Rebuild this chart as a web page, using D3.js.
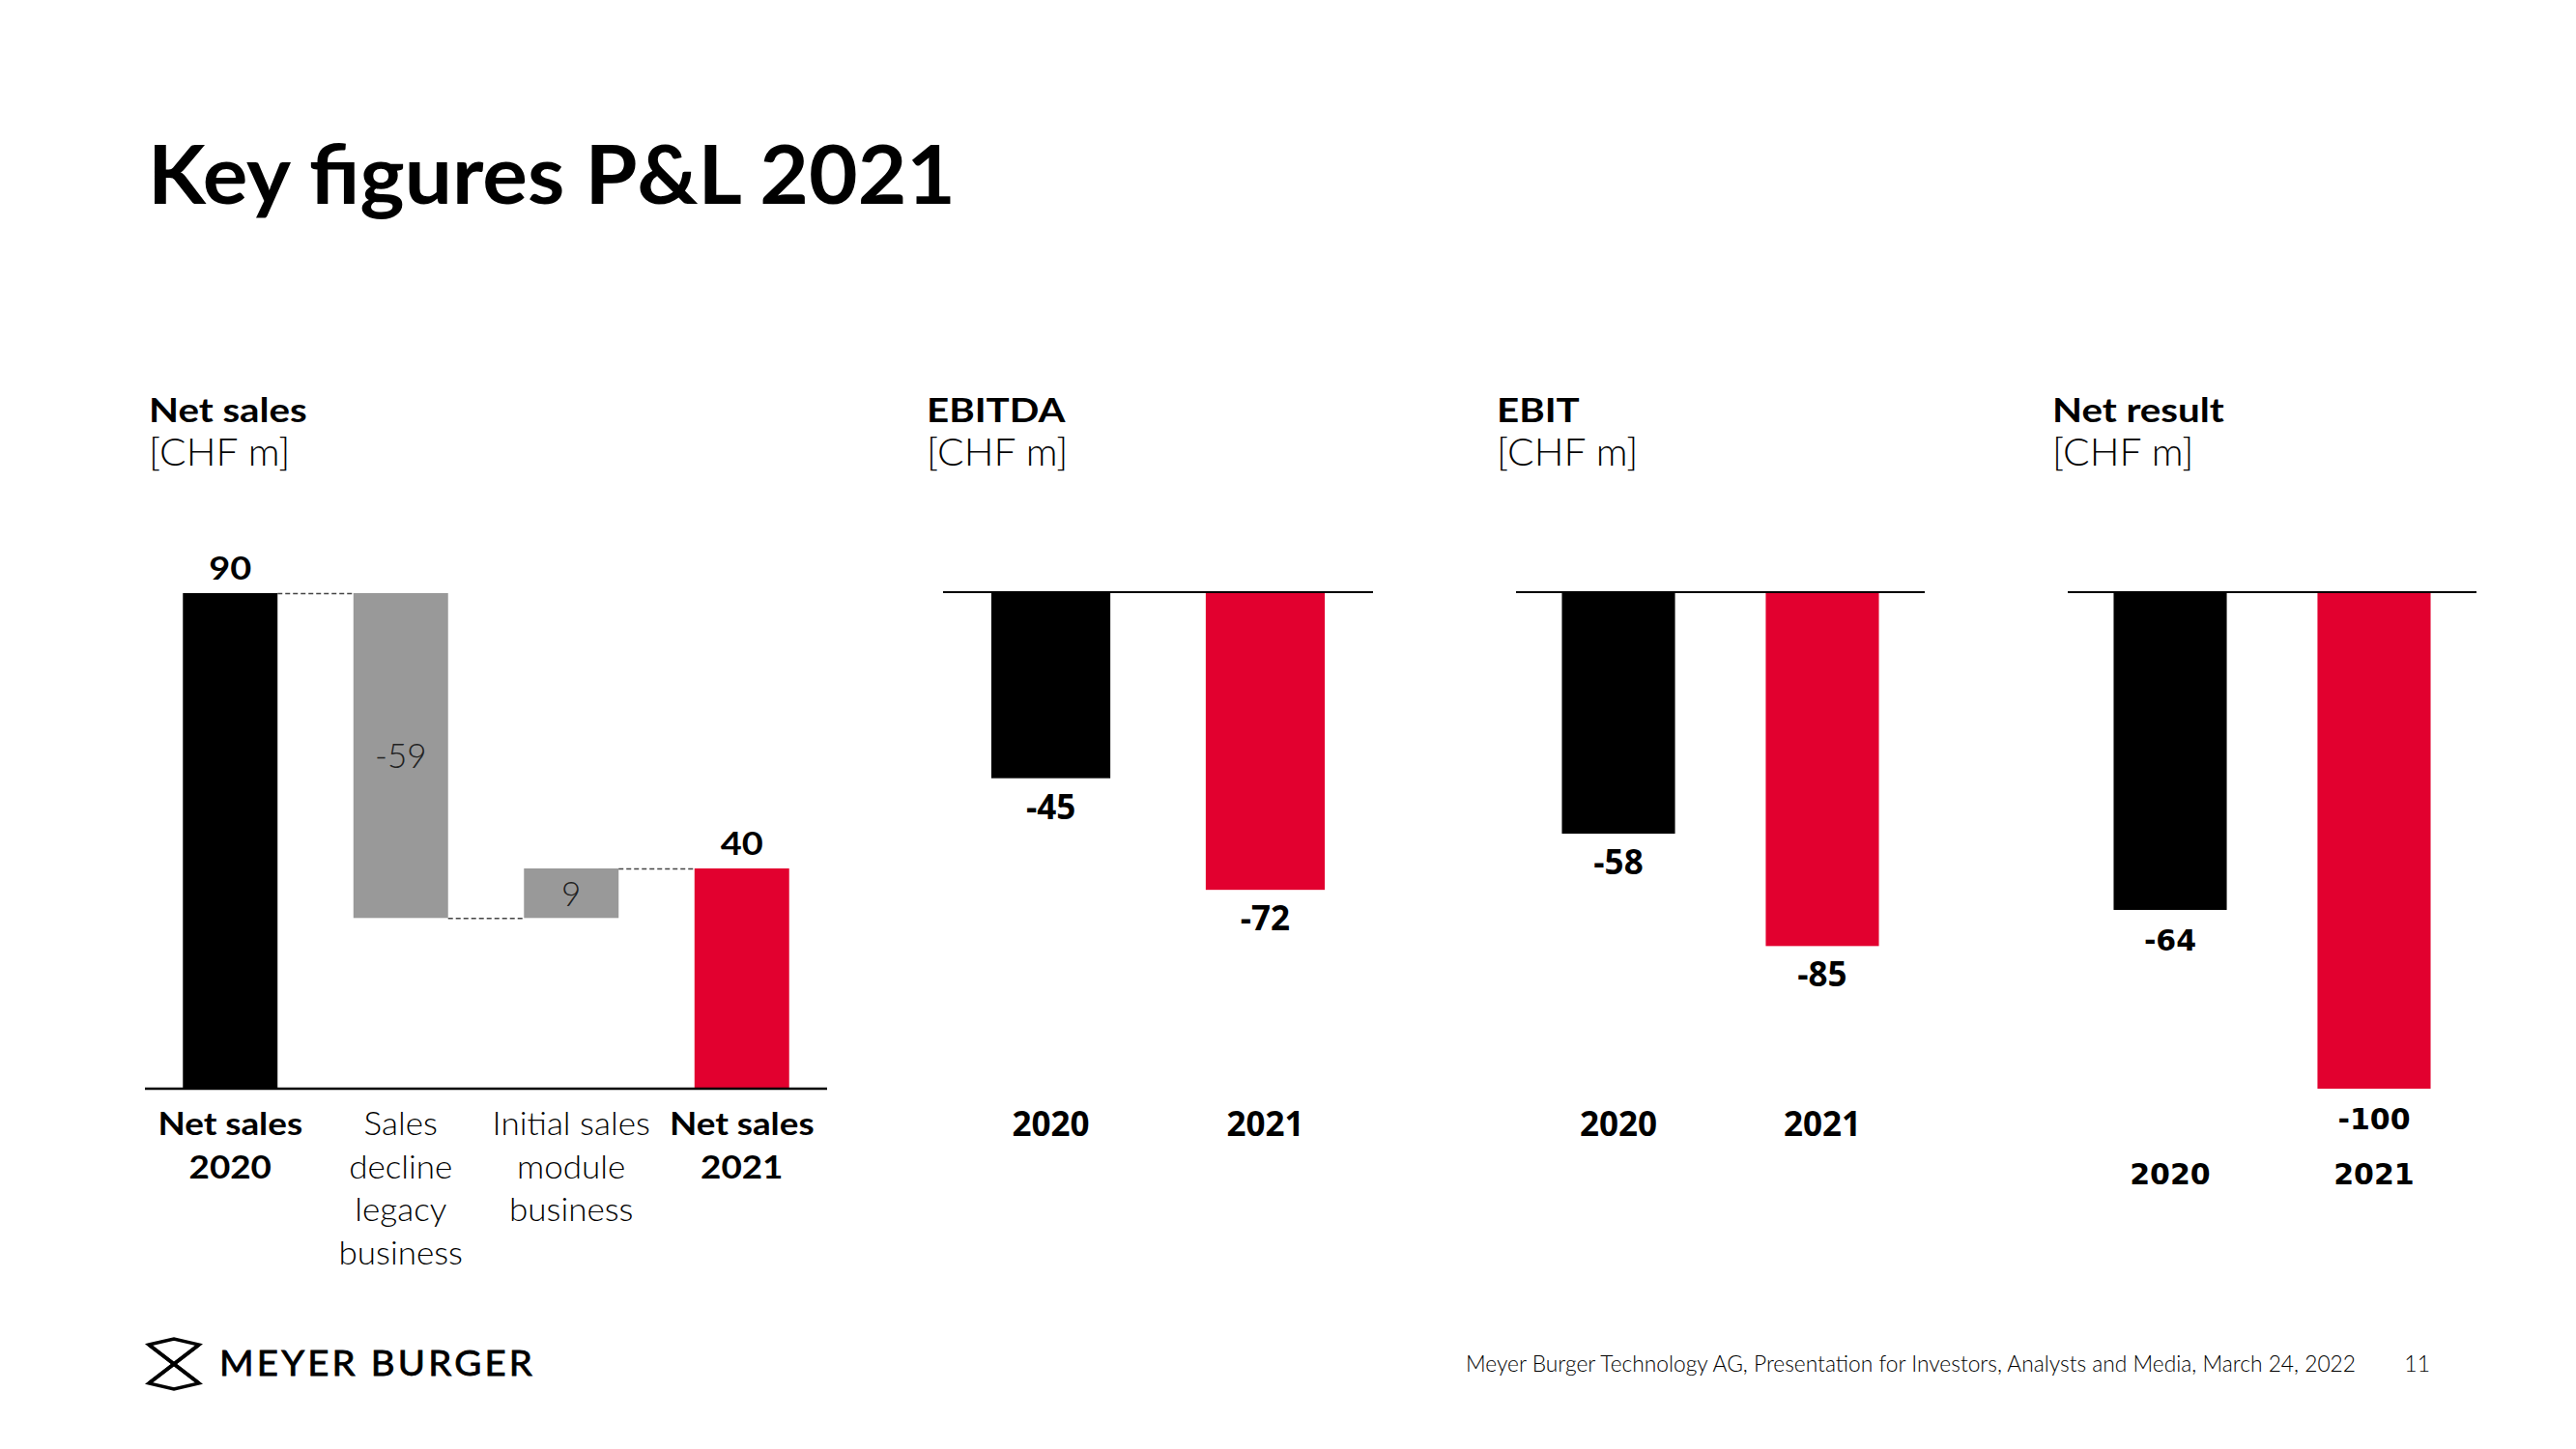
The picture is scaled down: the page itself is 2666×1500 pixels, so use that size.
<!DOCTYPE html>
<html><head><meta charset="utf-8">
<script src="https://cdn.jsdelivr.net/npm/d3@7"></script>
<style>
html,body{margin:0;padding:0;background:#fff;}
svg{display:block;}
</style></head><body>
<svg id="chart" width="2666" height="1500"></svg>
<script>
// ---------- data ----------
const pageTitle = "Key figures P&L 2021";
const unitLabel = "[CHF m]";
const panelTitles = ["Net sales", "EBITDA", "EBIT", "Net result"];
const bridgeSteps = ["Net sales 2020", "Sales decline legacy business", "Initial sales module business", "Net sales 2021"];
const bridgeLabelLines = [["Net sales", "2020"], ["Sales", "decline", "legacy", "business"], ["Initial sales", "module", "business"], ["Net sales", "2021"]];
const bridgeValues = [90, -59, 9, 40];
const bridgeKinds = ["total", "delta", "delta", "total"];
const years = ["2020", "2021"];
const ebitdaValues = [-45, -72];
const ebitValues = [-58, -85];
const netResultValues = [-64, -100];
const footerText = "Meyer Burger Technology AG, Presentation for Investors, Analysts and Media, March 24, 2022";
const pageNumber = "11";
const brandName = "MEYER BURGER";

// ---------- style ----------
const RED = "#E2002F", BLACK = "#000000", GREY = "#999999";
const FUT = "Lato, 'Open Sans', sans-serif";
const BOLD_STRETCH = 1.15;

const svg = d3.select("#chart");
svg.append("rect").attr("width", 2666).attr("height", 1500).attr("fill", "#fff");

function stretch(sel, f) {
  sel.each(function () {
    const w = this.getComputedTextLength();
    d3.select(this).attr("textLength", w * f).attr("lengthAdjust", "spacingAndGlyphs");
  });
}
function fitWidth(sel, w) {
  sel.attr("textLength", w).attr("lengthAdjust", "spacingAndGlyphs");
}

// ---------- title ----------
svg.append("text").attr("x", 153).attr("y", 211)
  .attr("font-family", FUT).attr("font-weight", 700).attr("font-size", 85)
  .attr("fill", BLACK).text(pageTitle).call(fitWidth, 836);

// ---------- panel layouts ----------
const panels = [
  {x0: 150, x1: 856, axisY: 1127, ppu: 5.70, headX: 154},
  {x0: 976, x1: 1421, axisY: 613, ppu: 4.28, headX: 959},
  {x0: 1569, x1: 1992, axisY: 613, ppu: 4.31, headX: 1549},
  {x0: 2140, x1: 2563, axisY: 613, ppu: 5.14, headX: 2124}
];

// headings
panels.forEach((p, i) => {
  svg.append("text").attr("x", p.headX).attr("y", 437)
    .attr("font-family", FUT).attr("font-weight", 700).attr("font-size", 35)
    .attr("fill", BLACK).text(panelTitles[i]).call(stretch, BOLD_STRETCH);
  svg.append("text").attr("x", p.headX).attr("y", 482)
    .attr("font-family", FUT).attr("font-weight", 300).attr("font-size", 40)
    .attr("fill", BLACK).text(unitLabel).call(stretch, 1.02);
});

// ---------- Net sales bridge ----------
{
  const p = panels[0];
  const x = d3.scaleBand().domain(bridgeSteps).range([p.x0, p.x1]).paddingInner(0.445).paddingOuter(0.2225);
  const maxV = d3.max(bridgeValues);
  const y = d3.scaleLinear().domain([0, maxV]).range([p.axisY, p.axisY - maxV * p.ppu]);
  let run = 0;
  const rows = bridgeSteps.map((s, i) => {
    const v = bridgeValues[i];
    let a, b;
    if (bridgeKinds[i] === "total") { a = 0; b = v; run = v; }
    else { a = run; b = run + v; run = b; }
    return {step: s, v, a, b, kind: bridgeKinds[i], i};
  });
  const g = svg.append("g");
  g.selectAll("rect.bar").data(rows).join("rect")
    .attr("x", d => x(d.step)).attr("width", x.bandwidth())
    .attr("y", d => y(Math.max(d.a, d.b)))
    .attr("height", d => Math.abs(y(d.a) - y(d.b)))
    .attr("fill", d => d.kind === "delta" ? GREY : (d.i === 0 ? BLACK : RED));
  // connectors
  const conns = rows.slice(0, -1).map((d, i) => ({from: d, to: rows[i + 1], level: d.b}));
  g.selectAll("line.conn").data(conns).join("line")
    .attr("x1", d => x(d.from.step) + x.bandwidth()).attr("x2", d => x(d.to.step))
    .attr("y1", d => y(d.level) + 0.5).attr("y2", d => y(d.level) + 0.5)
    .attr("stroke", "#444").attr("stroke-width", 1.5).attr("stroke-dasharray", "5,3");
  // axis line
  g.append("line").attr("x1", p.x0).attr("x2", p.x1).attr("y1", p.axisY).attr("y2", p.axisY)
    .attr("stroke", BLACK).attr("stroke-width", 2.5);
  // value labels
  rows.forEach(d => {
    const cx = x(d.step) + x.bandwidth() / 2;
    if (d.kind === "total") {
      g.append("text").attr("x", cx).attr("y", y(d.b) - 14).attr("text-anchor", "middle")
        .attr("font-family", FUT).attr("font-weight", 700).attr("font-size", 33)
        .attr("fill", BLACK).text(d.v).call(stretch, BOLD_STRETCH);
    } else {
      g.append("text").attr("x", cx).attr("y", (y(d.a) + y(d.b)) / 2 + 13).attr("text-anchor", "middle")
        .attr("font-family", FUT).attr("font-weight", 300).attr("font-size", 35)
        .attr("fill", "#222").text(d.v).call(stretch, 1.0);
    }
  });
  // category labels
  rows.forEach(d => {
    const cx = x(d.step) + x.bandwidth() / 2;
    const bold = d.kind === "total";
    bridgeLabelLines[d.i].forEach((ln, k) => {
      g.append("text").attr("x", cx).attr("y", 1175 + k * 44.5).attr("text-anchor", "middle")
        .attr("font-family", FUT).attr("font-weight", bold ? 700 : 300).attr("font-size", bold ? 32 : 34)
        .attr("fill", BLACK).text(ln).call(stretch, bold ? BOLD_STRETCH : 1.03);
    });
  });
}

// ---------- simple year panels ----------
function yearPanel(p, values, opts) {
  const x = d3.scaleBand().domain(years).range([p.x0, p.x1]).paddingInner(0.445).paddingOuter(0.225);
  const minV = d3.min(values);
  const y = d3.scaleLinear().domain([0, minV]).range([p.axisY, p.axisY - minV * p.ppu]);
  const g = svg.append("g");
  g.selectAll("rect").data(values).join("rect")
    .attr("x", (d, i) => x(years[i])).attr("width", x.bandwidth())
    .attr("y", y(0)).attr("height", d => y(d) - y(0))
    .attr("fill", (d, i) => i === 0 ? BLACK : RED);
  g.append("line").attr("x1", p.x0).attr("x2", p.x1).attr("y1", p.axisY).attr("y2", p.axisY)
    .attr("stroke", BLACK).attr("stroke-width", 2);
  g.selectAll("text.val").data(values).join("text").attr("class", "val")
    .attr("x", (d, i) => x(years[i]) + x.bandwidth() / 2).attr("y", d => y(d) + 42)
    .attr("text-anchor", "middle").attr("font-family", opts.font).attr("font-weight", 700)
    .attr("font-size", opts.size).attr("fill", BLACK).text(d => d);
  g.selectAll("text.yr").data(years).join("text").attr("class", "yr")
    .attr("x", d => x(d) + x.bandwidth() / 2).attr("y", opts.yearY)
    .attr("text-anchor", "middle").attr("font-family", opts.font).attr("font-weight", 700)
    .attr("font-size", opts.size).attr("fill", BLACK).text(d => d);
}
yearPanel(panels[1], ebitdaValues, {font: "'Open Sans', sans-serif", size: 35, yearY: 1176});
yearPanel(panels[2], ebitValues, {font: "'Open Sans', sans-serif", size: 35, yearY: 1176});
yearPanel(panels[3], netResultValues, {font: "'DejaVu Sans', sans-serif", size: 30, yearY: 1226});

// ---------- footer ----------
svg.append("text").attr("x", 2438).attr("y", 1420).attr("text-anchor", "end")
  .attr("font-family", FUT).attr("font-weight", 300).attr("font-size", 23)
  .attr("fill", BLACK).text(footerText).call(fitWidth, 921);
svg.append("text").attr("x", 2515).attr("y", 1420).attr("text-anchor", "end")
  .attr("font-family", FUT).attr("font-weight", 300).attr("font-size", 23)
  .attr("fill", BLACK).text(pageNumber);

// logo
const logo = svg.append("g").attr("transform", "translate(154,1386)")
  .attr("fill", "none").attr("stroke", BLACK).attr("stroke-width", 3.5).attr("stroke-linejoin", "miter");
logo.append("path").attr("d", "M0,6 L26,0 L52,6 L0,46 L26,52 L52,46 Z");
logo.append("path").attr("d", "M0,6 L52,46 M52,6 L0,46");
svg.append("text").attr("x", 227).attr("y", 1424)
  .attr("font-family", FUT).attr("font-weight", 400).attr("font-size", 36)
  .attr("letter-spacing", 3).attr("stroke", BLACK).attr("stroke-width", 0.8)
  .attr("fill", BLACK).text(brandName).call(fitWidth, 327);
</script>
</body></html>
